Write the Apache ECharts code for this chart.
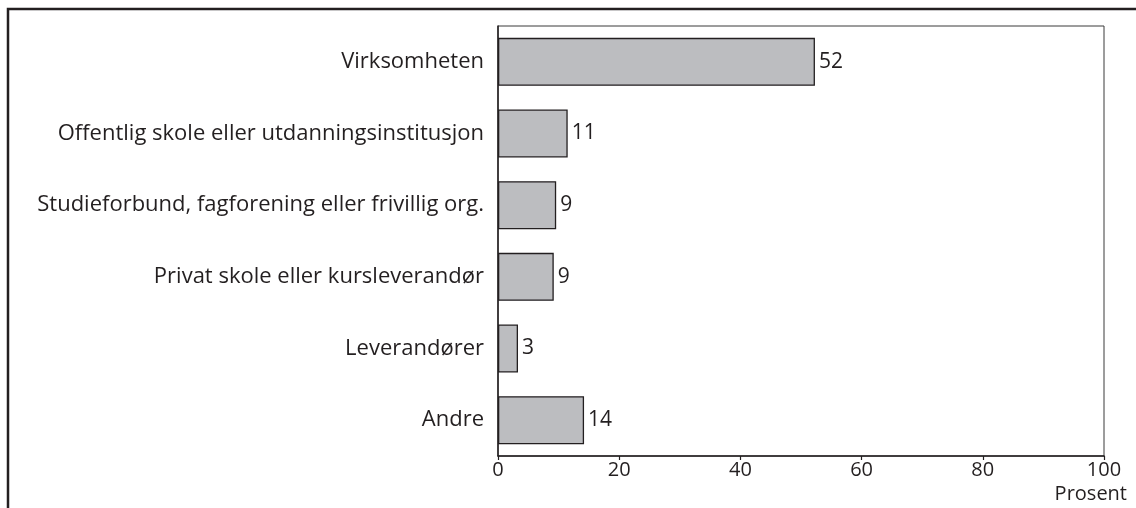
<!DOCTYPE html>
<html>
<head>
<meta charset="utf-8">
<script src="https://cdn.jsdelivr.net/npm/echarts@6/dist/echarts.min.js"></script>
<style>
  html, body { margin: 0; padding: 0; background: #fff; }
  #chart { width: 1136px; height: 508px; }
</style>
</head>
<body>
<div id="chart"></div>
<script>
// categories, top to bottom
const categories = [
  'Virksomheten',
  'Offentlig skole eller utdanningsinstitusjon',
  'Studieforbund, fagforening eller frivillig org.',
  'Privat skole eller kursleverandør',
  'Leverandører',
  'Andre'
];
// bar lengths (percent)
const values = [52.3, 11.5, 9.6, 9.2, 3.3, 14.2];
// numbers printed next to the bars
const shownLabels = [52, 11, 9, 9, 3, 14];
const axisName = 'Prosent';

const ink = '#231f20';
const font = 'Open Sans';

const chart = echarts.init(document.getElementById('chart'));

const option = {
  animation: false,
  textStyle: { fontFamily: font },
  grid: {
    left: 498,
    right: 32,
    top: 26,
    bottom: 52,
    show: true,
    borderColor: '#3a3a3a',
    borderWidth: 1,
    backgroundColor: 'transparent'
  },
  xAxis: {
    type: 'value',
    min: 0,
    max: 100,
    interval: 20,
    name: axisName,
    nameLocation: 'end',
    nameGap: 23,
    nameTextStyle: {
      color: ink,
      fontSize: 20,
      fontFamily: font,
      align: 'right',
      verticalAlign: 'top',
      padding: [28, 0, 0, 0]
    },
    axisLine: { show: true, lineStyle: { color: ink, width: 1.5 } },
    axisTick: { show: true, inside: false, length: 4, lineStyle: { color: ink, width: 1.2 } },
    axisLabel: { color: ink, fontSize: 20, fontFamily: font, margin: 4 },
    splitLine: { show: false }
  },
  yAxis: {
    type: 'category',
    data: categories,
    inverse: true,
    axisLine: { show: true, lineStyle: { color: ink, width: 1.5 } },
    axisTick: { show: false },
    axisLabel: { color: ink, fontSize: 22, fontFamily: font, margin: 14 },
    splitLine: { show: false }
  },
  series: [
    {
      type: 'bar',
      data: values,
      barCategoryGap: '33%',
      itemStyle: {
        color: '#bcbdc0',
        borderColor: ink,
        borderWidth: 1.3
      },
      label: {
        show: true,
        position: 'right',
        distance: 4,
        color: ink,
        fontSize: 21,
        fontFamily: font,
        formatter: p => shownLabels[p.dataIndex]
      }
    }
  ],
  graphic: [
    {
      type: 'polyline',
      silent: true,
      shape: { points: [[8, 508], [8, 9], [1136, 9]] },
      style: { stroke: ink, lineWidth: 2.5, fill: null }
    }
  ]
};

chart.setOption(option);
</script>
</body>
</html>
